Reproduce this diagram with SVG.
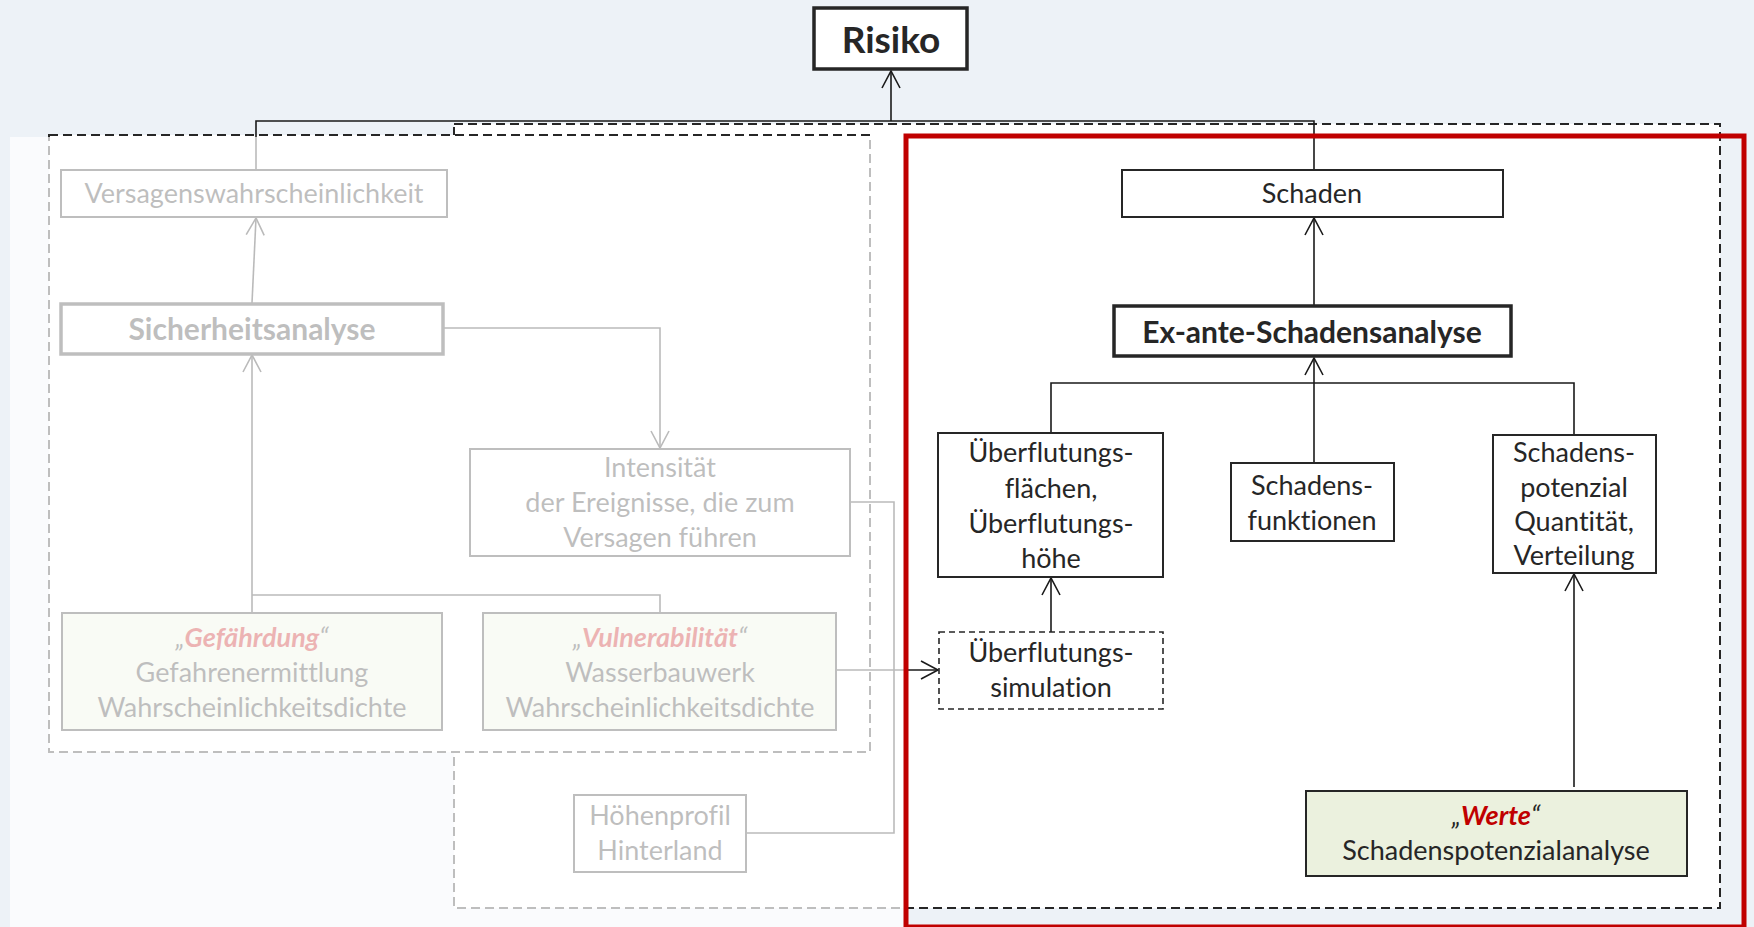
<svg xmlns="http://www.w3.org/2000/svg" width="1754" height="927" viewBox="0 0 1754 927">
  <defs>
    <marker id="arr" markerUnits="userSpaceOnUse" markerWidth="24" markerHeight="24" viewBox="-20 -12 24 24" refX="0" refY="0" orient="auto" overflow="visible">
      <path d="M-17,-9 L0,0 L-17,9" fill="none" stroke="#1a1a1a" stroke-width="1.6"/>
    </marker>
    <style>
      .bg { fill: #edf2f7; }
      .area { fill: #ffffff; stroke: #262626; stroke-width: 2; stroke-dasharray: 9 5; }
      .box { fill: #ffffff; stroke: #262626; stroke-width: 2; }
      .boxb { fill: #ffffff; stroke: #262626; stroke-width: 3.5; }
      .boxg { fill: #ebf1de; stroke: #262626; stroke-width: 2; }
      .boxd { fill: #ffffff; stroke: #262626; stroke-width: 1.6; stroke-dasharray: 6 4; }
      .conn { fill: none; stroke: #1a1a1a; stroke-width: 1.6; }
      text { font-family: Lato, "Liberation Sans", sans-serif; font-size: 27px; fill: #262626; text-anchor: middle; font-variant-ligatures: none; }
      .b { font-weight: bold; font-size: 30px; }
      .big { font-weight: bold; font-size: 37px; }
      .q { font-style: italic; }
      .em { font-style: italic; font-weight: bold; fill: #c00000; }
      .fade { fill: #ffffff; opacity: 0.7; }
      .frame { fill: none; stroke: #c00000; stroke-width: 5; }
    </style>
  </defs>

  <!-- page background -->
  <rect class="bg" x="0" y="0" width="1754" height="927"/>

  <!-- dashed grouping areas -->
  <g id="areas">
    <rect class="area" x="454" y="124" width="1266" height="784"/>
    <rect class="area" x="49" y="135" width="821" height="617"/>
  </g>

  <!-- connectors -->
  <g id="connectors">
    <path class="conn" d="M256,170 V121 H1314 V170"/>
    <path class="conn" d="M891,121 V71" marker-end="url(#arr)"/>
    <path class="conn" d="M252,303 L256,218" marker-end="url(#arr)"/>
    <path class="conn" d="M660,613 V595 H252"/>
    <path class="conn" d="M252,613 V355" marker-end="url(#arr)"/>
    <path class="conn" d="M443,328 H660 V448" marker-end="url(#arr)"/>
    <path class="conn" d="M850,502 H894 V833 H746"/>
    <path class="conn" d="M836,670 H938" marker-end="url(#arr)"/>
    <path class="conn" d="M1051,632 V578" marker-end="url(#arr)"/>
    <path class="conn" d="M1051,433 V383 H1574 V435"/>
    <path class="conn" d="M1314,463 V358" marker-end="url(#arr)"/>
    <path class="conn" d="M1314,306 V218" marker-end="url(#arr)"/>
    <path class="conn" d="M1574,787 V574" marker-end="url(#arr)"/>
  </g>

  <!-- nodes -->
  <g id="risiko">
    <rect class="boxb" x="814" y="8" width="153" height="61"/>
    <text class="big" x="891" y="53">Risiko</text>
  </g>

  <g id="versagenswahrscheinlichkeit">
    <rect class="box" x="61" y="170" width="386" height="47"/>
    <text x="254" y="203">Versagenswahrscheinlichkeit</text>
  </g>

  <g id="sicherheitsanalyse">
    <rect class="boxb" x="61" y="304" width="382" height="50"/>
    <text class="b" x="252" y="340">Sicherheitsanalyse</text>
  </g>

  <g id="intensitaet">
    <rect class="box" x="470" y="449" width="380" height="107"/>
    <text x="660" y="477">Intensität</text>
    <text x="660" y="512">der Ereignisse, die zum</text>
    <text x="660" y="547">Versagen führen</text>
  </g>

  <g id="gefaehrdung">
    <rect class="boxg" x="62" y="613" width="380" height="117"/>
    <text x="252" y="647"><tspan class="q">„</tspan><tspan class="em">Gefährdung</tspan><tspan class="q">“</tspan></text>
    <text x="252" y="682">Gefahrenermittlung</text>
    <text x="252" y="717">Wahrscheinlichkeitsdichte</text>
  </g>

  <g id="vulnerabilitaet">
    <rect class="boxg" x="483" y="613" width="353" height="117"/>
    <text x="660" y="647"><tspan class="q">„</tspan><tspan class="em">Vulnerabilität</tspan><tspan class="q">“</tspan></text>
    <text x="660" y="682">Wasserbauwerk</text>
    <text x="660" y="717">Wahrscheinlichkeitsdichte</text>
  </g>

  <g id="hoehenprofil">
    <rect class="box" x="574" y="795" width="172" height="77"/>
    <text x="660" y="825">Höhenprofil</text>
    <text x="660" y="860">Hinterland</text>
  </g>

  <g id="schaden">
    <rect class="box" x="1122" y="170" width="381" height="47"/>
    <text x="1312" y="203">Schaden</text>
  </g>

  <g id="ex-ante-schadensanalyse">
    <rect class="boxb" x="1114" y="306" width="397" height="50"/>
    <text class="b" x="1312" y="343">Ex-ante-Schadensanalyse</text>
  </g>

  <g id="ueberflutungsflaechen">
    <rect class="box" x="938" y="433" width="225" height="144"/>
    <text x="1051" y="462">Überflutungs-</text>
    <text x="1051" y="498">flächen,</text>
    <text x="1051" y="533">Überflutungs-</text>
    <text x="1051" y="568">höhe</text>
  </g>

  <g id="schadensfunktionen">
    <rect class="box" x="1231" y="463" width="163" height="78"/>
    <text x="1312" y="495">Schadens-</text>
    <text x="1312" y="530">funktionen</text>
  </g>

  <g id="schadenspotenzial">
    <rect class="box" x="1493" y="435" width="163" height="138"/>
    <text x="1574" y="462">Schadens-</text>
    <text x="1574" y="497">potenzial</text>
    <text x="1574" y="531">Quantität,</text>
    <text x="1574" y="565">Verteilung</text>
  </g>

  <g id="ueberflutungssimulation">
    <rect class="boxd" x="939" y="632" width="224" height="77"/>
    <text x="1051" y="662">Überflutungs-</text>
    <text x="1051" y="697">simulation</text>
  </g>

  <g id="werte">
    <rect class="boxg" x="1306" y="791" width="381" height="85"/>
    <text x="1496" y="825"><tspan class="q">„</tspan><tspan class="em">Werte</tspan><tspan class="q">“</tspan></text>
    <text x="1496" y="860">Schadenspotenzialanalyse</text>
  </g>

  <!-- veil over the faded left part -->
  <rect class="fade" x="10" y="137" width="896" height="790"/>

  <!-- highlighted frame -->
  <rect class="frame" x="906" y="136" width="838" height="791"/>
</svg>
